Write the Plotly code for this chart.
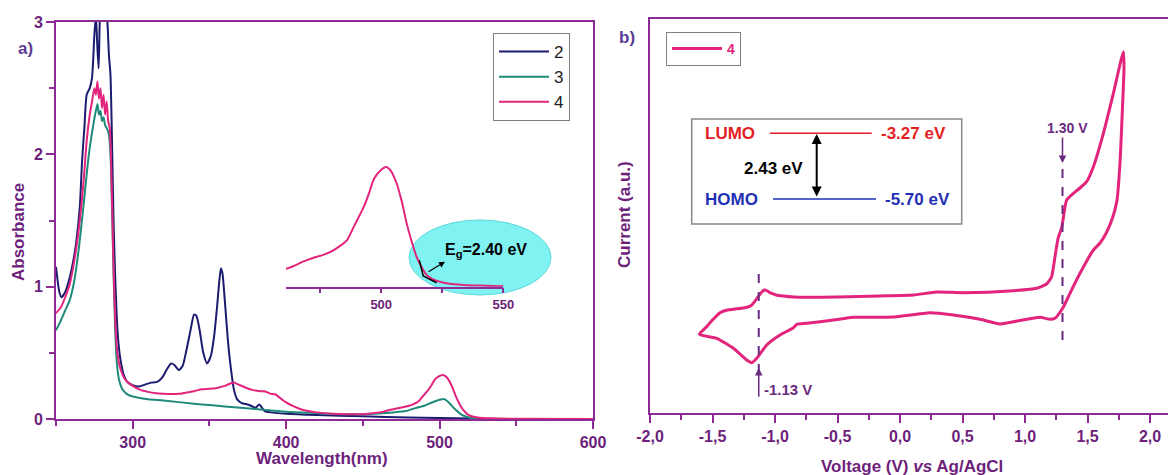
import plotly.graph_objects as go

# ---------------- data ----------------
# UV-vis absorbance, compound 2
wl_2 = [250, 252, 253.5, 256, 258.5, 261, 263, 265.5, 267, 268.5, 270, 272, 273.5, 275, 276,
        277, 277.8, 278.5, 279.5, 281, 282.5, 283.5, 284.5, 285.5, 286.5, 287.5, 288.5, 289.5,
        290.5, 292, 294, 296.5, 300, 304, 308, 312, 316, 319, 322, 325, 327, 330, 332.5, 335,
        337.5, 340, 341.5, 343.5, 346, 348.5, 351, 353, 355, 356.5, 357.5, 358.5, 360, 362, 364,
        366, 368, 371, 375, 378, 380, 382.5, 384, 386, 390, 400, 420, 450, 480, 500, 520, 540, 600]
abs_2 = [1.15, 0.97, 0.92, 0.96, 1.05, 1.18, 1.32, 1.6, 1.95, 2.2, 2.45, 2.5, 2.58, 2.9, 3.05,
         2.8, 2.65, 3.0, 3.2, 3.2, 3.1, 3.0, 2.75, 2.6, 2.1, 1.5, 1.1, 0.8,
         0.6, 0.45, 0.34, 0.28, 0.255, 0.245, 0.26, 0.275, 0.28, 0.31, 0.37, 0.42, 0.41, 0.37, 0.40, 0.52,
         0.66, 0.79, 0.78, 0.68, 0.5, 0.42, 0.48, 0.62, 0.85, 1.05, 1.14, 1.1, 0.9, 0.6, 0.38,
         0.22, 0.15, 0.12, 0.11, 0.095, 0.085, 0.11, 0.09, 0.06, 0.05, 0.04, 0.03, 0.02, 0.012, 0.008, 0.003, 0.0, 0.0]

# compound 3
wl_3 = [250, 253, 256, 259, 262, 265, 268, 270, 272, 274, 275.5, 277, 278, 279, 280, 281, 282, 283,
        284.5, 285.5, 286.5, 287.5, 288.5, 289.5, 291, 293, 296, 300, 310, 320, 340, 350, 360, 380,
        400, 420, 440, 460, 470, 478, 485, 490, 495, 500, 503, 506, 510, 514, 518, 522, 530, 600]
abs_3 = [0.67, 0.74, 0.82, 0.9, 1.05, 1.3, 1.62, 1.85, 2.05, 2.2, 2.3, 2.38, 2.3, 2.33, 2.25, 2.28, 2.22, 2.2,
         2.15, 2.0, 1.6, 1.1, 0.7, 0.45, 0.3, 0.23, 0.19, 0.17, 0.15, 0.14, 0.115, 0.105, 0.095, 0.075,
         0.055, 0.045, 0.035, 0.042, 0.05, 0.06, 0.085, 0.1, 0.125, 0.145, 0.15, 0.125, 0.075, 0.035, 0.015, 0.005, 0.0, 0.0]

# compound 4
wl_4 = [250, 253, 256, 259, 262, 265, 268, 270, 272, 273.5, 275, 276, 277, 278, 279, 280, 281, 282,
        283, 284, 285, 286, 287, 288, 289, 290, 292, 295, 300, 305, 310, 315, 320, 325, 330, 335,
        340, 345, 350, 355, 360, 364, 366, 369, 373, 378, 383, 386, 390, 393, 397, 400, 405, 410,
        420, 430, 440, 450, 458, 461, 464, 468, 472, 476, 480, 483, 486, 489, 492.7, 495, 497,
        499.5, 502, 504, 506.3, 508.5, 510.4, 512.5, 514.5, 516.5, 518.6, 521, 524, 528, 533.6,
        540, 550, 600]
abs_4 = [0.8, 0.84, 0.92, 1.02, 1.2, 1.45, 1.8, 2.1, 2.3, 2.4, 2.5, 2.45, 2.55, 2.42, 2.5, 2.35, 2.45, 2.3,
         2.4, 2.25, 2.2, 1.9, 1.4, 0.95, 0.65, 0.5, 0.38, 0.3, 0.25, 0.22, 0.205, 0.195, 0.19, 0.188, 0.19, 0.2,
         0.21, 0.225, 0.228, 0.235, 0.25, 0.27, 0.275, 0.26, 0.24, 0.22, 0.21, 0.21, 0.19, 0.185, 0.15, 0.125, 0.095, 0.072,
         0.05, 0.04, 0.036, 0.036, 0.045, 0.05, 0.057, 0.07, 0.08, 0.088, 0.1, 0.113, 0.13, 0.17, 0.22, 0.26, 0.3,
         0.322, 0.333, 0.322, 0.288, 0.235, 0.177, 0.125, 0.083, 0.055, 0.033, 0.021, 0.014, 0.008, 0.005,
         0.003, 0.001, 0.0]

# tangent used for the optical gap (inset)
tangent_wl = [515.6, 517.2, 522.7]
tangent_abs = [0.074, 0.03, 0.011]

# cyclic voltammogram of 4 (current in arbitrary units)
cv_voltage = [-1.605, -1.547, -1.50, -1.44, -1.38, -1.333, -1.27, -1.226, -1.19, -1.16, -1.125, -1.088,
              -1.06, -1.04, -0.99, -0.933, -0.85, -0.746, -0.5, -0.16, 0.107, 0.293, 0.507, 0.907,
              1.093, 1.173, 1.213, 1.24, 1.265, 1.293, 1.333, 1.387, 1.44, 1.493, 1.547, 1.627, 1.707,
              1.787, 1.792, 1.778, 1.76, 1.735, 1.70, 1.65, 1.60, 1.547, 1.44, 1.36, 1.301, 1.24, 1.2,
              1.12, 1.013, 0.907, 0.8, 0.64, 0.427, 0.24, -0.027, -0.16, -0.373, -0.533, -0.746, -0.826,
              -0.853, -0.96, -1.066, -1.146, -1.186, -1.226, -1.333, -1.466, -1.605]
cv_current = [0.787, 0.863, 0.93, 1.003, 1.03, 1.037, 1.047, 1.057, 1.075, 1.12, 1.18, 1.23,
              1.22, 1.203, 1.18, 1.17, 1.16, 1.157, 1.16, 1.17, 1.18, 1.21, 1.203, 1.223,
              1.247, 1.29, 1.363, 1.563, 1.75, 1.85, 2.13, 2.197, 2.25, 2.313, 2.463, 2.797, 3.197,
              3.613, 3.45, 3.0, 2.5, 2.12, 1.95, 1.8, 1.7, 1.63, 1.397, 1.197, 1.047, 0.947, 0.937,
              0.957, 0.937, 0.913, 0.89, 0.937, 0.98, 1.003, 0.963, 0.957, 0.957, 0.93, 0.897, 0.887,
              0.853, 0.78, 0.68, 0.547, 0.503, 0.53, 0.647, 0.747, 0.787]

peak_potentials = [-1.13, 1.30]
peak_labels = ["-1.13 V", "1.30 V"]

uv_series_names = ["2", "3", "4"]
cv_tick_values = [-2.0, -1.5, -1.0, -0.5, 0.0, 0.5, 1.0, 1.5, 2.0]
cv_tick_labels = ["-2,0", "-1,5", "-1,0", "-0,5", "0,0", "0,5", "1,0", "1,5", "2,0"]
inset_tick_values = [475, 500, 525, 550]
inset_tick_labels = ["", "500", "", "550"]

level_names = ["LUMO", "HOMO"]
level_energies = ["-3.27 eV", "-5.70 eV"]
gap_label = "2.43 eV"
eg_label = "E<sub>g</sub>=2.40 eV"

# ---------------- style ----------------
W, H = 1168, 475
FONT = "Liberation Sans, Arial, sans-serif"
AXC = "#8e2a93"
TXC = "#6d1f7b"
NAVY = "#1b1b6f"
TEAL = "#1f8a7a"
PINK = "#e2247c"
MARK = "#6a2a80"


def px(x):
    return x / W


def py(y):
    return (H - y) / H


fig = go.Figure()

for wl, ab, nm, col in [(wl_2, abs_2, uv_series_names[0], NAVY),
                        (wl_3, abs_3, uv_series_names[1], TEAL),
                        (wl_4, abs_4, uv_series_names[2], PINK)]:
    fig.add_trace(go.Scatter(x=wl, y=ab, name=nm, mode="lines",
                             line=dict(color=col, width=2, shape="spline", smoothing=0.6),
                             xaxis="x", yaxis="y", legend="legend"))

# inset
fig.add_trace(go.Scatter(x=wl_4, y=abs_4, mode="lines", showlegend=False,
                         line=dict(color=PINK, width=2, shape="spline", smoothing=0.6),
                         xaxis="x3", yaxis="y3"))
fig.add_trace(go.Scatter(x=tangent_wl, y=tangent_abs, mode="lines", showlegend=False,
                         line=dict(color="black", width=1.5), xaxis="x3", yaxis="y3"))

# CV
fig.add_trace(go.Scatter(x=cv_voltage, y=cv_current, name="4", mode="lines",
                         line=dict(color=PINK, width=3, shape="spline", smoothing=0.5),
                         xaxis="x2", yaxis="y2", legend="legend2"))

tickfont = dict(family=FONT, size=16, color=TXC, weight="bold")
common = dict(showline=True, linecolor=AXC, linewidth=2, ticks="outside", ticklen=8,
              tickwidth=1.5, tickcolor=AXC, showgrid=False, zeroline=False, tickfont=tickfont,
              automargin=False)

fig.update_layout(
    width=W, height=H, autosize=False,
    margin=dict(l=0, r=0, t=0, b=0, pad=0, autoexpand=False),
    paper_bgcolor="white", plot_bgcolor="rgba(0,0,0,0)",
    font=dict(family=FONT),
    xaxis=dict(domain=[px(56), px(593)], range=[250, 600], anchor="y", mirror=True,
               tickmode="linear", tick0=300, dtick=100,
               minor=dict(tick0=250, dtick=50, ticks="outside", ticklen=5, tickcolor=AXC, tickwidth=1.5),
               **common),
    yaxis=dict(domain=[py(419), py(22)], range=[0, 3], anchor="x", mirror=True,
               tickmode="linear", tick0=0, dtick=1,
               minor=dict(tick0=0, dtick=0.5, ticks="outside", ticklen=5, tickcolor=AXC, tickwidth=1.5),
               **common),
    xaxis2=dict(domain=[px(650), 1.0], range=[-2.0, -2.0 + (W - 650) / 125.0], anchor="y2", mirror=True,
                tickmode="array", tickvals=cv_tick_values, ticktext=cv_tick_labels,
                minor=dict(tickmode="linear", tick0=-2.0, dtick=0.25, ticks="outside", ticklen=5,
                           tickcolor=AXC, tickwidth=1.5),
                **common),
    yaxis2=dict(domain=[py(413), py(19)], range=[0, 3.94], anchor="x2", showline=True, linecolor=AXC,
                linewidth=2, ticks="", showticklabels=False, showgrid=False, zeroline=False,
                automargin=False),
    xaxis3=dict(domain=[px(286), px(503.3)], range=[461, 550], anchor="y3",
                showline=True, linecolor=AXC, linewidth=1.5, ticks="outside", ticklen=5, tickwidth=1.5,
                tickcolor=AXC, tickmode="array", tickvals=inset_tick_values, ticktext=inset_tick_labels,
                showgrid=False, zeroline=False, automargin=False,
                tickfont=dict(family=FONT, size=13, color=TXC, weight="bold")),
    yaxis3=dict(domain=[py(286.7), py(161)], range=[0, 0.35], anchor="x3", visible=False),
    legend=dict(x=px(493), y=py(33), xanchor="left", yanchor="top", bgcolor="white",
                bordercolor="#808080", borderwidth=1, font=dict(family=FONT, size=17, color="#222"),
                itemwidth=50, tracegroupgap=0),
    legend2=dict(x=px(666), y=py(32), xanchor="left", yanchor="top", bgcolor="white",
                 bordercolor="#808080", borderwidth=1,
                 font=dict(family=FONT, size=14, color=PINK, weight="bold"), itemwidth=50),
)

shapes = []
# cyan ellipse highlighting the onset
shapes.append(dict(type="circle", xref="paper", yref="paper", x0=px(409), x1=px(551), y0=py(295), y1=py(220),
                   fillcolor="#80f2f2", line=dict(color="#5ad8dc", width=1), layer="below"))
# dashed peak markers on CV
shapes.append(dict(type="line", xref="x2", yref="y2", x0=peak_potentials[0], x1=peak_potentials[0],
                   y0=0.40, y1=1.437, line=dict(color=MARK, width=2, dash="dash")))
shapes.append(dict(type="line", xref="x2", yref="y2", x0=peak_potentials[1], x1=peak_potentials[1],
                   y0=0.73, y1=2.563, line=dict(color=MARK, width=2, dash="dash")))
# energy level box
shapes.append(dict(type="rect", xref="paper", yref="paper", x0=px(691.7), x1=px(961.7), y0=py(224), y1=py(119),
                   fillcolor="white", line=dict(color="#888888", width=1.5)))
shapes.append(dict(type="line", xref="paper", yref="paper", x0=px(770), x1=px(871.7), y0=py(133.3), y1=py(133.3),
                   line=dict(color="#e31e24", width=1.5)))
shapes.append(dict(type="line", xref="paper", yref="paper", x0=px(773), x1=px(876), y0=py(199), y1=py(199),
                   line=dict(color="#1f2fb5", width=1.5)))
fig.update_layout(shapes=shapes)


def label(text, x, y, font, xanchor="center", yanchor="middle", **kw):
    return dict(text=text, xref="paper", yref="paper", x=px(x), y=py(y), showarrow=False,
                xanchor=xanchor, yanchor=yanchor, font=font, **kw)


ann = []
tfont = dict(family=FONT, size=17, color=TXC, weight="bold")
ann.append(label("Absorbance", 18, 232, tfont, textangle=-90))
ann.append(label("Wavelength(nm)", 322, 458, tfont))
ann.append(label("Current (a.u.)", 625, 215, tfont, textangle=-90))
ann.append(label("Voltage (V) <i>vs</i> Ag/AgCl", 912, 466, tfont))
ann.append(label("a)", 25, 48, dict(family=FONT, size=17, color="#5c3d96", weight="bold")))
ann.append(label("b)", 627, 38, dict(family=FONT, size=17, color="#5c3d96", weight="bold")))
# Eg label and arrow
ann.append(label(eg_label, 486, 250, dict(family=FONT, size=16, color="black", weight="bold")))
ann.append(dict(text="", xref="paper", yref="paper", x=px(445), y=py(261.7), ax=-18, ay=11,
                showarrow=True, arrowhead=2, arrowsize=1, arrowwidth=1.2, arrowcolor="black"))
# CV peak arrows and labels
ann.append(dict(text="", xref="x2", yref="y2", x=peak_potentials[0], y=0.45, axref="x2", ayref="y2",
                ax=peak_potentials[0], ay=0.147, showarrow=True, arrowhead=2, arrowsize=1,
                arrowwidth=1.5, arrowcolor=MARK))
ann.append(dict(text=peak_labels[0], xref="x2", yref="y2", x=-1.10, y=0.24, xanchor="left",
                yanchor="middle", showarrow=False,
                font=dict(family=FONT, size=15, color=MARK, weight="bold")))
ann.append(dict(text="", xref="x2", yref="y2", x=peak_potentials[1], y=2.50, axref="x2", ayref="y2",
                ax=peak_potentials[1], ay=2.77, showarrow=True, arrowhead=2, arrowsize=1,
                arrowwidth=1.5, arrowcolor=MARK))
ann.append(dict(text=peak_labels[1], xref="x2", yref="y2", x=1.342, y=2.85, xanchor="center",
                yanchor="middle", showarrow=False,
                font=dict(family=FONT, size=14, color=MARK, weight="bold")))
# energy diagram texts
red_f = dict(family=FONT, size=17, color="#e31e24", weight="bold")
blue_f = dict(family=FONT, size=17, color="#1f2fb5", weight="bold")
ann.append(label(level_names[0], 703, 133.3, red_f, xanchor="left"))
ann.append(label(level_names[1], 703, 199, blue_f, xanchor="left"))
ann.append(label(level_energies[0], 879, 133.3, red_f, xanchor="left"))
ann.append(label(level_energies[1], 883, 199, blue_f, xanchor="left"))
ann.append(label(gap_label, 773, 168.3, dict(family=FONT, size=17, color="black", weight="bold")))
ann.append(dict(text="", xref="paper", yref="paper", x=px(816.7), y=py(134), ax=0, ay=64,
                showarrow=True, arrowhead=2, arrowside="end+start", arrowsize=1, arrowwidth=2,
                arrowcolor="black"))
fig.update_layout(annotations=ann)

fig.write_html("out.html")
